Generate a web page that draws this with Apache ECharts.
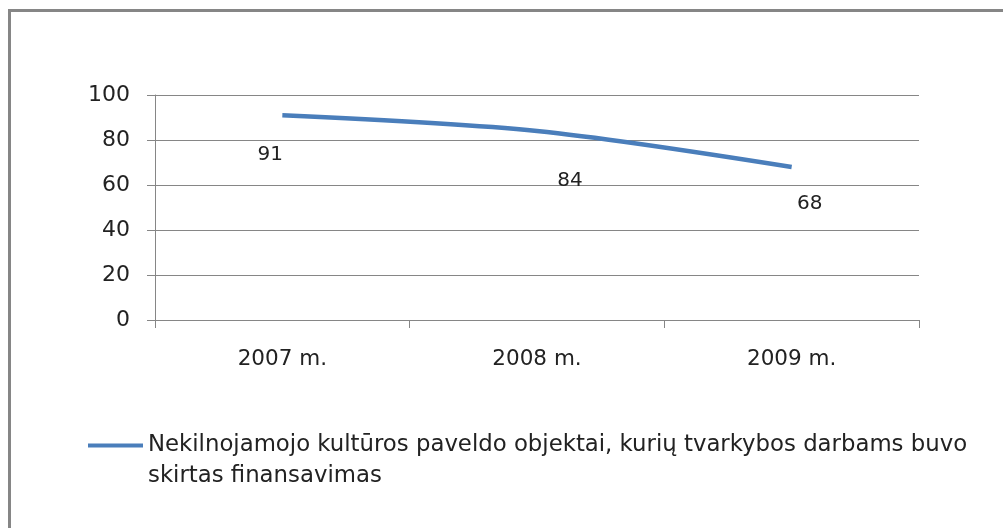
<!DOCTYPE html>
<html>
<head>
<meta charset="utf-8">
<script src="https://cdn.jsdelivr.net/npm/echarts@6/dist/echarts.min.js"></script>
<style>
  html, body { margin: 0; padding: 0; background: #fff; }
  #chart { width: 1003px; height: 528px; }
</style>
</head>
<body>
<div id="chart"></div>
<script>
  var years = ['2007 m.', '2008 m.', '2009 m.'];
  var objectCounts = [91, 84, 68];
  // hand-placed label offsets, as in the original
  var labelOffsets = [[-12, 40], [33, 50], [18, 37]];
  var seriesName = 'Nekilnojamojo kultūros paveldo objektai, kurių tvarkybos darbams buvo skirtas finansavimas';

  var gray = '#868686';
  var chart = echarts.init(document.getElementById('chart'), null, { renderer: 'canvas' });

  chart.setOption({
    animation: false,
    backgroundColor: '#fff',
    graphic: [{
      type: 'rect',
      shape: { x: 9.5, y: 10.5, width: 1100, height: 600 },
      style: { fill: 'none', stroke: gray, lineWidth: 3 },
      silent: true
    }],
    grid: { left: 155, right: 84, top: 95, height: 225 },
    legend: {
      left: 88,
      top: 430,
      padding: 0,
      itemWidth: 55,
      itemHeight: 62,
      icon: 'path://M0,0h0.1v0.1h-0.1z M0,13.5h55v4h-55z M0,61.9h0.1v0.1h-0.1z',
      formatter: function (name) {
        return name.replace(' skirtas', '\nskirtas');
      },
      textStyle: {
        fontFamily: 'DejaVu Sans',
        fontSize: 22.8,
        lineHeight: 31,
        color: '#222'
      },
      data: [seriesName]
    },
    xAxis: {
      type: 'category',
      data: years,
      boundaryGap: true,
      axisLine: { lineStyle: { color: gray } },
      axisTick: { show: true, length: 8, lineStyle: { color: gray } },
      axisLabel: {
        margin: 28,
        fontFamily: 'DejaVu Sans',
        fontSize: 21.5,
        color: '#222'
      }
    },
    yAxis: {
      type: 'value',
      min: 0,
      max: 100,
      interval: 20,
      axisLine: { show: true, lineStyle: { color: gray } },
      axisTick: { show: true, length: 8, lineStyle: { color: gray } },
      splitLine: { lineStyle: { color: gray } },
      axisLabel: {
        margin: 25,
        fontFamily: 'DejaVu Sans',
        fontSize: 22,
        color: '#222'
      }
    },
    series: [{
      name: seriesName,
      type: 'line',
      smooth: 0.3,
      symbol: 'circle',
      symbolSize: 0,
      showSymbol: true,
      lineStyle: { color: '#4a7ebb', width: 4.5 },
      itemStyle: { color: '#4a7ebb' },
      data: objectCounts.map(function (v, i) {
        return {
          value: v,
          label: {
            show: true,
            position: 'inside',
            offset: labelOffsets[i],
            fontFamily: 'DejaVu Sans',
            fontSize: 20,
            color: '#222'
          }
        };
      })
    }]
  });
</script>
</body>
</html>
